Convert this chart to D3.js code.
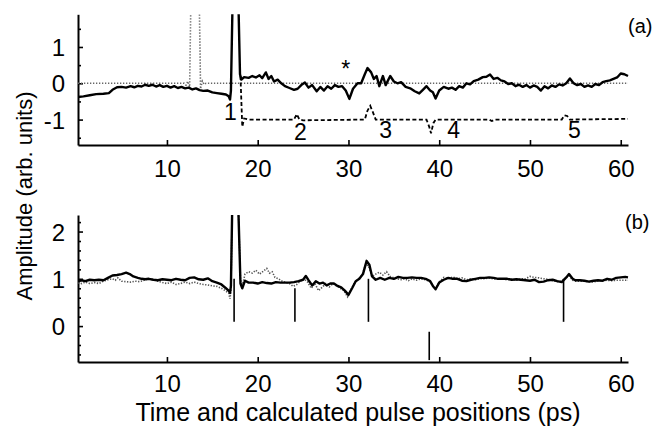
<!DOCTYPE html>
<html>
<head>
<meta charset="utf-8">
<script src="https://cdn.jsdelivr.net/npm/d3@7/dist/d3.min.js"></script>
<style>
  html, body { margin: 0; padding: 0; background: #fff; }
  svg { display: block; font-family: "Liberation Sans", Arial, Helvetica, sans-serif; }
</style>
</head>
<body>
<svg id="chart" width="667" height="429"></svg>
<script>
// ---------- data ----------
// Panel (a): measured trace (solid), reference pulse (dotted), calculated pulse train offset by -1 (dashed)
const aMeasured = [
  [0.2,-0.38],[0.8,-0.36],[1.5,-0.33],[2.2,-0.3],[3.0,-0.29],[3.6,-0.27],[4.0,-0.18],[4.5,-0.11],
  [5.0,-0.1],[5.5,-0.12],[6.0,-0.08],[6.4,-0.11],[6.8,-0.07],[7.2,-0.09],[7.6,-0.04],[8.0,-0.07],
  [8.4,-0.04],[8.8,-0.09],[9.2,-0.05],[9.6,-0.1],[10.0,-0.07],[10.4,-0.12],[10.8,-0.08],[11.2,-0.13],
  [11.6,-0.1],[12.0,-0.14],[12.4,-0.12],[12.8,-0.17],[13.2,-0.14],[13.6,-0.19],[14.0,-0.21],[14.5,-0.2],
  [15.0,-0.25],[15.5,-0.27],[16.0,-0.29],[16.5,-0.31],[16.8,-0.36],[16.95,-0.45],[17.05,-0.2],
  [17.25,2.5],[17.85,2.5],[18.05,0.25],[18.2,0.1],[18.5,0.17],[19.0,0.15],[19.4,0.2],[19.8,0.16],
  [20.2,0.22],[20.5,0.14],[20.9,0.3],[21.2,0.12],[21.5,0.2],[21.8,0.05],[22.2,0.1],[22.6,0.0],
  [23.0,-0.08],[23.5,-0.13],[24.0,-0.18],[24.4,-0.15],[24.8,-0.05],[25.2,0.02],[25.6,-0.12],[26.0,-0.05],
  [26.5,-0.22],[26.9,-0.1],[27.3,-0.2],[27.7,-0.08],[28.1,-0.15],[28.5,-0.05],[28.9,-0.1],[29.3,-0.08],
  [29.7,-0.2],[30.1,-0.43],[30.5,-0.15],[31.0,0.0],[31.4,0.0],[31.8,0.25],[32.1,0.42],[32.5,0.3],
  [32.8,0.12],[33.1,0.2],[33.4,-0.08],[33.8,0.2],[34.1,-0.05],[34.6,0.2],[35.0,0.05],[35.4,0.0],
  [35.8,0.03],[36.3,-0.1],[36.8,-0.14],[37.3,-0.22],[37.8,-0.28],[38.2,-0.18],[38.6,-0.08],[39.0,-0.2],
  [39.3,-0.25],[39.6,-0.42],[40.0,-0.2],[40.5,-0.1],[41.0,-0.15],[41.4,-0.12],[41.8,-0.18],[42.2,-0.08],
  [42.6,-0.12],[43.0,0.0],[43.4,-0.03],[43.8,0.06],[44.3,0.1],[44.8,0.17],[45.2,0.18],[45.6,0.24],
  [46.0,0.12],[46.4,0.15],[46.8,0.08],[47.2,0.05],[47.6,-0.02],[48.0,0.0],[48.4,-0.08],[48.8,-0.04],
  [49.2,-0.1],[49.6,-0.05],[50.0,-0.12],[50.4,-0.06],[50.8,-0.1],[51.2,-0.2],[51.6,-0.08],[52.0,-0.14],
  [52.4,-0.06],[52.8,-0.1],[53.2,-0.03],[53.6,-0.06],[54.0,0.0],[54.4,0.13],[54.8,0.0],[55.2,-0.05],
  [55.6,-0.02],[56.0,-0.1],[56.4,-0.06],[56.8,-0.1],[57.2,-0.02],[57.6,-0.05],[58.0,0.03],[58.4,0.06],
  [58.8,0.08],[59.2,0.12],[59.6,0.16],[60.0,0.27],[60.4,0.25],[60.8,0.2]
];
const aReference = [
  [0.2,0],[11.9,0],[12.1,-0.05],[12.3,0.05],[12.5,-0.1],[12.65,2.5],[13.55,2.5],[13.7,-0.15],
  [13.9,0.06],[14.1,-0.03],[14.3,0],[60.8,0]
];
const aCalculated = [
  [18.1,0.2],[18.3,-1.2],[18.5,-0.97],[19.0,-1.0],[24.0,-1.0],[24.3,-0.85],[24.6,-1.0],[25.0,-1.02],
  [31.8,-1.0],[32.1,-0.75],[32.4,-0.62],[32.7,-0.8],[33.0,-1.0],[38.6,-1.0],[38.9,-1.2],[39.1,-1.38],
  [39.35,-1.1],[39.6,-1.0],[45.5,-1.0],[45.8,-1.04],[46.1,-1.0],[53.5,-1.0],[53.8,-0.88],[54.1,-0.9],
  [54.4,-1.0],[60.8,-0.98]
];
const aLabels = [
  { text: "1", x: 17.0, y: -1.0 },
  { text: "2", x: 24.7, y: -1.55 },
  { text: "3", x: 34.1, y: -1.5 },
  { text: "4", x: 41.6, y: -1.5 },
  { text: "5", x: 54.9, y: -1.5 },
  { text: "*", x: 29.7, y: 0.17 }
];

// Panel (b): measured (solid), reconstructed (dotted), pulse positions as sticks [x, from, to]
const bMeasured = [
  [0.2,0.94],[0.6,0.97],[1.0,0.95],[1.5,0.98],[2.0,0.97],[2.5,0.98],[3.0,0.97],[3.5,1.02],[4.0,1.07],
  [4.5,1.08],[5.0,1.1],[5.5,1.13],[5.9,1.1],[6.3,1.05],[6.8,1.02],[7.2,1.0],[7.6,0.99],[8.0,1.0],
  [8.5,0.98],[9.0,0.97],[9.5,0.99],[10.0,0.98],[10.5,0.97],[11.0,1.0],[11.5,0.98],[12.0,0.97],
  [12.5,1.02],[13.0,1.03],[13.5,0.99],[14.0,0.98],[14.5,1.01],[15.0,0.95],[15.5,0.92],[16.0,0.88],
  [16.5,0.8],[16.8,0.75],[16.95,0.7],[17.05,0.85],[17.2,2.6],[17.85,2.6],[18.1,0.9],[18.3,0.8],
  [18.6,0.96],[19.0,0.92],[19.5,0.92],[20.0,0.9],[20.5,0.93],[21.0,0.91],[21.5,0.9],[22.0,0.93],
  [22.5,0.92],[23.0,0.92],[23.5,0.92],[24.0,0.93],[24.5,0.95],[25.0,0.98],[25.3,1.06],[25.6,0.97],
  [26.0,0.86],[26.4,0.95],[26.8,0.9],[27.2,0.92],[27.6,0.86],[28.0,0.9],[28.4,0.9],[28.8,0.85],
  [29.2,0.82],[29.6,0.75],[30.0,0.66],[30.4,0.8],[30.8,0.95],[31.2,1.0],[31.6,1.1],[32.0,1.38],
  [32.3,1.3],[32.6,1.05],[33.0,0.98],[33.5,1.02],[34.0,0.98],[34.5,1.02],[35.0,1.0],[35.5,1.04],
  [36.0,1.02],[36.5,1.02],[37.0,1.03],[37.5,1.02],[38.0,1.02],[38.5,1.0],[39.0,0.95],[39.3,0.85],
  [39.6,0.78],[40.0,0.92],[40.5,0.98],[41.0,1.02],[41.5,1.0],[42.0,1.0],[42.5,0.96],[43.0,0.95],
  [43.5,0.98],[44.0,1.0],[44.5,1.02],[45.0,1.02],[45.5,1.03],[46.0,1.02],[46.5,1.0],[47.0,1.0],
  [47.5,1.0],[48.0,0.98],[48.5,0.99],[49.0,0.98],[49.5,0.97],[50.0,0.96],[50.5,0.98],[51.0,0.93],
  [51.5,0.94],[52.0,0.97],[52.5,0.98],[53.0,0.95],[53.5,0.93],[54.0,1.03],[54.3,1.1],[54.7,1.0],
  [55.0,0.97],[55.5,0.97],[56.0,0.96],[56.5,0.94],[57.0,0.96],[57.5,0.97],[58.0,0.96],[58.5,1.0],
  [59.0,0.98],[59.5,1.02],[60.0,1.03],[60.5,1.04],[60.8,1.03]
];
const bReconstructed = [
  [0.2,0.92],[0.6,0.9],[1.0,0.93],[1.5,0.9],[2.0,0.92],[2.5,0.9],[3.0,0.95],[3.5,0.98],[4.0,1.0],
  [4.3,0.97],[4.6,1.02],[5.0,0.95],[5.5,0.94],[6.0,0.93],[6.5,0.95],[7.0,0.94],[7.5,0.97],[8.0,1.0],
  [8.5,0.98],[9.0,0.95],[9.5,0.92],[10.0,0.9],[10.5,0.93],[11.0,0.88],[11.5,0.9],[12.0,0.93],
  [12.5,0.9],[13.0,0.93],[13.5,0.9],[14.0,0.88],[14.5,0.87],[15.0,0.85],[15.5,0.84],[16.0,0.8],
  [16.5,0.74],[16.8,0.7],[16.95,0.58],[17.05,0.75],[17.2,2.6],[17.85,2.6],[18.1,1.0],[18.3,0.85],
  [18.6,1.1],[19.0,1.15],[19.4,1.12],[19.8,1.18],[20.2,1.1],[20.6,1.16],[21.0,1.22],[21.3,1.12],
  [21.6,1.15],[21.9,1.03],[22.3,1.0],[22.7,0.95],[23.1,0.92],[23.5,0.9],[23.9,0.84],[24.3,0.88],
  [24.7,0.95],[25.1,1.0],[25.5,0.93],[25.9,0.8],[26.3,0.9],[26.7,0.75],[27.1,0.82],[27.5,0.9],
  [27.9,0.83],[28.3,0.9],[28.7,0.85],[29.1,0.8],[29.5,0.75],[29.9,0.62],[30.3,0.78],[30.7,0.93],
  [31.1,1.0],[31.5,1.08],[31.9,1.3],[32.2,1.28],[32.6,1.05],[33.0,1.1],[33.4,1.14],[33.8,1.08],
  [34.2,1.15],[34.6,1.05],[35.0,1.02],[35.4,1.0],[35.8,0.98],[36.2,1.0],[36.6,0.96],[37.0,1.0],
  [37.5,0.97],[38.0,1.0],[38.5,0.98],[39.0,0.94],[39.3,0.85],[39.6,0.8],[40.0,0.93],[40.5,1.03],
  [41.0,1.0],[41.5,1.04],[42.0,1.0],[42.5,1.02],[43.0,0.98],[43.5,1.0],[44.0,0.98],[44.5,1.0],
  [45.0,1.0],[45.5,1.02],[46.0,1.0],[46.5,0.99],[47.0,1.0],[47.5,0.98],[48.0,0.99],[48.5,0.97],
  [49.0,1.0],[49.5,1.0],[50.0,1.05],[50.5,1.03],[51.0,1.02],[51.5,1.0],[52.0,0.99],[52.5,0.96],
  [53.0,0.94],[53.5,0.95],[54.0,1.03],[54.3,1.07],[54.7,0.97],[55.0,0.95],[55.5,0.95],[56.0,0.95],
  [56.5,0.94],[57.0,0.93],[57.5,0.96],[58.0,0.96],[58.5,0.97],[59.0,0.96],[59.5,0.97],[60.0,0.97],
  [60.5,0.97],[60.8,0.97]
];
const bPulses = [
  [17.4, 0.09, 1.0],
  [24.1, 0.09, 0.8],
  [32.2, 0.09, 1.0],
  [38.9, -0.12, -0.72],
  [53.7, 0.09, 1.0]
];

// Axis ticks and labels
const xTicks = [10, 20, 30, 40, 50, 60];
const aYTicks = [-1, 0, 1];
const aYMinor = [-1.5, -0.5, 0.5, 1.5];
const bYTicks = [0, 1, 2];
const bYMinor = [-0.6, -0.4, -0.2, 0.2, 0.4, 0.6, 0.8, 1.2, 1.4, 1.6, 1.8, 2.2];
const panelTags = ["(a)", "(b)"];
const xTitle = "Time and calculated pulse positions (ps)";
const yTitle = "Amplitude (arb. units)";

// ---------- layout ----------
const svg = d3.select("#chart");
const FONT = 24;
const fmt = d => String(d);

const x = d3.scaleLinear().domain([0.2, 60.8]).range([78, 628]);
const ya = d3.scaleLinear().domain([-1.7, 1.9]).range([145, 14.3]);
const yb = d3.scaleLinear().domain([-0.76, 2.35]).range([362, 215]);

function panel(id, y, labelPad, majors, minors) {
  const g = svg.append("g");
  const [r0, r1] = y.range();
  g.append("clipPath").attr("id", id)
    .append("rect")
    .attr("x", x.range()[0]).attr("y", r1)
    .attr("width", x.range()[1] - x.range()[0] + 2).attr("height", r0 - r1);

  // x axis, ticks pointing into the plot
  g.append("g").attr("transform", `translate(0,${r0})`)
    .call(d3.axisBottom(x).tickValues(xTicks).tickFormat(fmt)
      .tickSizeInner(-5).tickSizeOuter(0).tickPadding(labelPad));
  // y axis, major then minor ticks
  const yax = g.append("g").attr("transform", `translate(${x.range()[0]},0)`)
    .call(d3.axisLeft(y).tickValues(majors).tickFormat(fmt)
      .tickSizeInner(-5).tickSizeOuter(0).tickPadding(13));
  g.append("g").attr("transform", `translate(${x.range()[0]},0)`)
    .call(d3.axisLeft(y).tickValues(minors).tickSizeInner(-3).tickSizeOuter(0).tickFormat(""))
    .select(".domain").remove();

  g.selectAll(".domain").attr("stroke", "#000").attr("stroke-width", 2);
  g.selectAll(".tick line").attr("stroke", "#000").attr("stroke-width", 1.6);
  g.selectAll(".tick text").attr("font-size", FONT).attr("fill", "#000")
    .attr("font-family", "'Liberation Sans', Arial, Helvetica, sans-serif");
  yax.selectAll(".tick text").attr("dy", "0.36em");
  return g.append("g").attr("clip-path", `url(#${id})`);
}

const line = (y) => d3.line().x(d => x(d[0])).y(d => y(d[1]));

// ---- panel (a)
const pa = panel("ca", ya, 15, aYTicks, aYMinor);
pa.append("path").datum(aReference).attr("d", line(ya))
  .attr("fill", "none").attr("stroke", "#666").attr("stroke-width", 1.6).attr("stroke-dasharray", "1.3,1.7");
pa.append("path").datum(aCalculated).attr("d", line(ya))
  .attr("fill", "none").attr("stroke", "#000").attr("stroke-width", 1.8).attr("stroke-dasharray", "4,2.5");
pa.append("path").datum(aMeasured).attr("d", line(ya))
  .attr("fill", "none").attr("stroke", "#000").attr("stroke-width", 2.4).attr("stroke-linejoin", "round");

svg.append("g").selectAll("text").data(aLabels).join("text")
  .attr("x", d => x(d.x)).attr("y", d => ya(d.y))
  .attr("text-anchor", "middle").attr("font-size", 23).attr("fill", "#000")
  .text(d => d.text);

// ---- panel (b)
const pb = panel("cb", yb, 13, bYTicks, bYMinor);
pb.append("path").datum(bReconstructed).attr("d", line(yb))
  .attr("fill", "none").attr("stroke", "#555").attr("stroke-width", 1.6).attr("stroke-dasharray", "1.3,1.5");
pb.append("path").datum(bMeasured).attr("d", line(yb))
  .attr("fill", "none").attr("stroke", "#000").attr("stroke-width", 2.4).attr("stroke-linejoin", "round");
pb.selectAll("line.pulse").data(bPulses).join("line").attr("class", "pulse")
  .attr("x1", d => x(d[0])).attr("x2", d => x(d[0]))
  .attr("y1", d => yb(d[1])).attr("y2", d => yb(d[2]))
  .attr("stroke", "#000").attr("stroke-width", 1.6);

// ---- panel tags and titles
svg.append("text").attr("x", 628).attr("y", 33).attr("font-size", 20).text(panelTags[0]);
svg.append("text").attr("x", 625).attr("y", 229).attr("font-size", 20).text(panelTags[1]);

svg.append("text").attr("x", 358).attr("y", 421).attr("text-anchor", "middle")
  .attr("font-size", 25).text(xTitle);
svg.append("text").attr("transform", "translate(32,196) rotate(-90)").attr("text-anchor", "middle")
  .attr("font-size", 22).text(yTitle);
</script>
</body>
</html>
